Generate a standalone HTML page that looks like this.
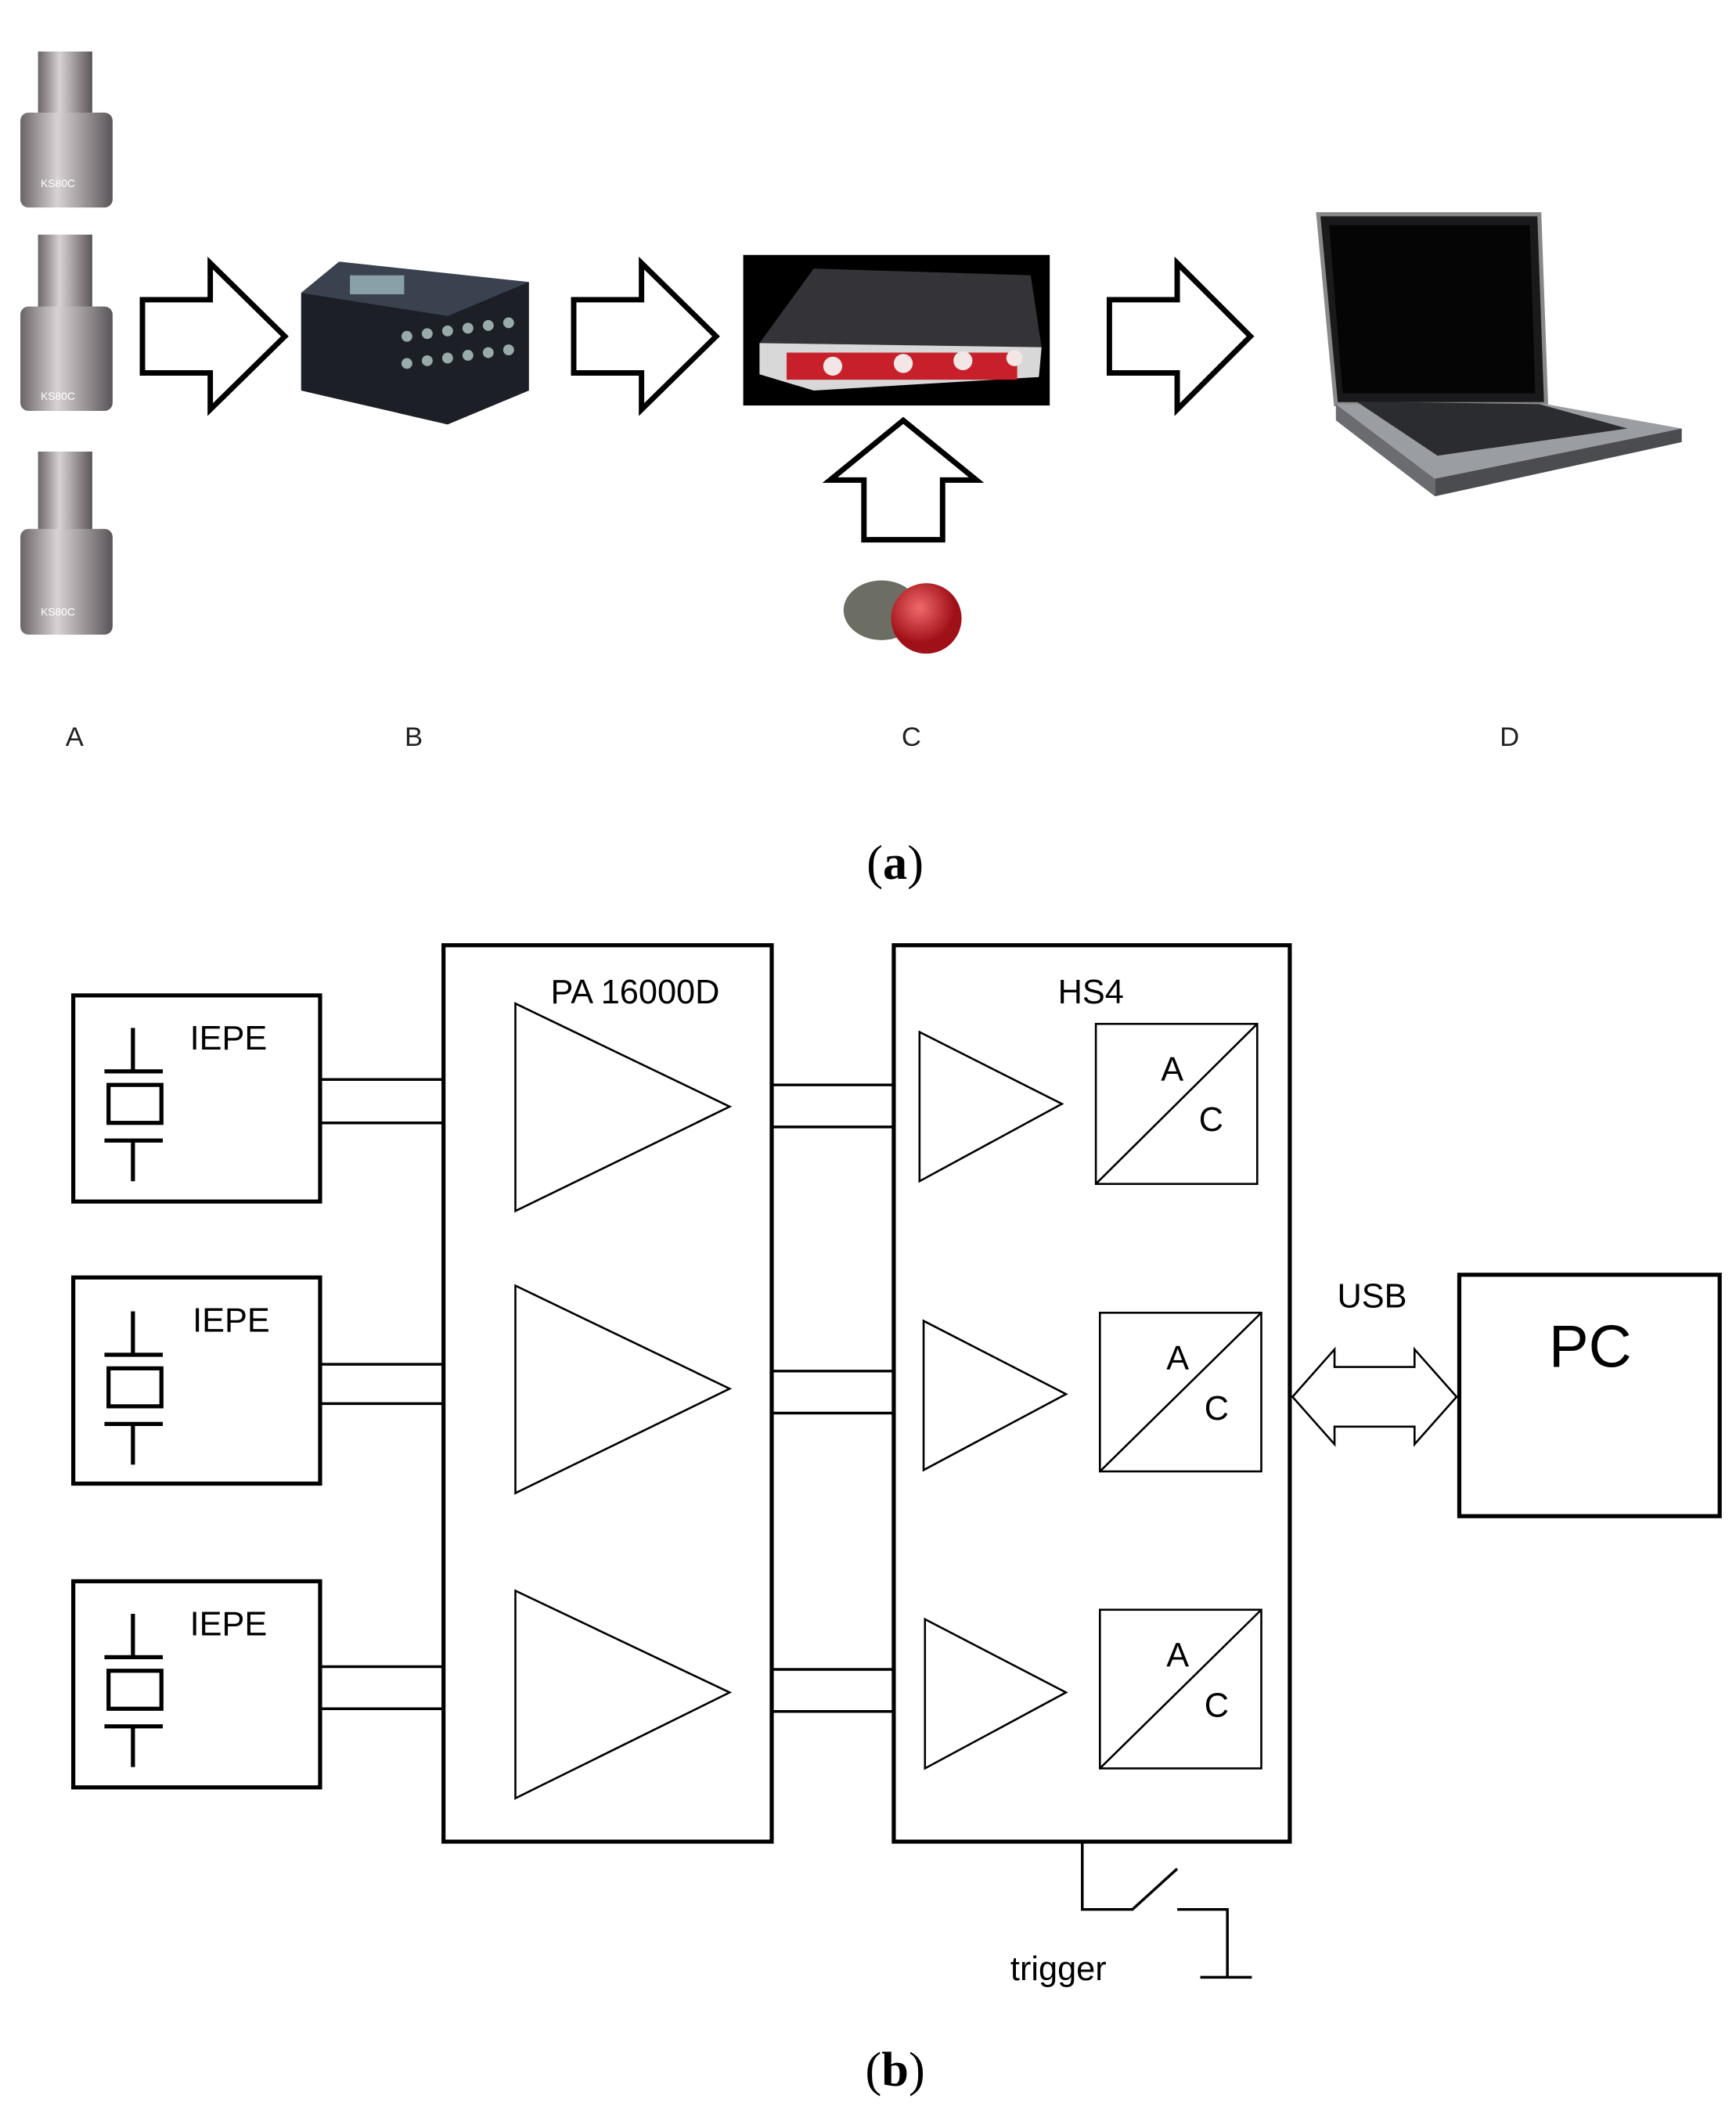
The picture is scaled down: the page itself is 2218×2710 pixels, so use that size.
<!DOCTYPE html>
<html><head><meta charset="utf-8"><style>
html,body{margin:0;padding:0;background:#fff;}
svg{display:block;}
text{font-family:"Liberation Sans",sans-serif;}
</style></head><body>
<svg width="2218" height="2710" viewBox="0 2 1280 1564" xmlns="http://www.w3.org/2000/svg">
<defs>
<linearGradient id="met" x1="0" x2="1"><stop offset="0" stop-color="#6a6468"/><stop offset="0.4" stop-color="#d8d2d4"/><stop offset="0.7" stop-color="#9a9497"/><stop offset="1" stop-color="#5a5558"/></linearGradient>
<radialGradient id="red" cx="0.4" cy="0.35"><stop offset="0" stop-color="#f06a6a"/><stop offset="1" stop-color="#a01018"/></radialGradient>
</defs>
<g>
<rect x="28" y="40" width="40" height="48" fill="url(#met)"/><rect x="15" y="85" width="68" height="70" rx="6" fill="url(#met)"/>
<rect x="28" y="175" width="40" height="55" fill="url(#met)"/><rect x="15" y="228" width="68" height="77" rx="6" fill="url(#met)"/>
<rect x="28" y="335" width="40" height="60" fill="url(#met)"/><rect x="15" y="392" width="68" height="78" rx="6" fill="url(#met)"/>
<text x="30" y="140" font-size="8" fill="#fff">KS80C</text>
<text x="30" y="297" font-size="8" fill="#fff">KS80C</text>
<text x="30" y="456" font-size="8" fill="#fff">KS80C</text>
</g>
<g fill="#fff" stroke="#000" stroke-width="4" stroke-linejoin="miter">
<polygon points="105,223 155,223 155,196 210,250 155,304 155,277 105,277"/>
<polygon points="423,223 473,223 473,196 528,250 473,304 473,277 423,277"/>
<polygon points="818,223 868,223 868,196 922,250 868,304 868,277 818,277"/>
<polygon points="637,400 637,356 612,356 666,312 720,356 695,356 695,400"/>
</g>
<polygon points="222,218 250,195 390,210 390,290 330,315 222,290" fill="#1c2026"/>
<polygon points="222,218 250,195 390,210 330,235" fill="#3a4250"/>
<rect x="258" y="205" width="40" height="14" fill="#8aa0a8" transform="skew(-10)"/>
<g fill="#9aa" ><circle cx="300" cy="250" r="4"/><circle cx="315" cy="248" r="4"/><circle cx="330" cy="246" r="4"/><circle cx="345" cy="244" r="4"/><circle cx="360" cy="242" r="4"/><circle cx="375" cy="240" r="4"/>
<circle cx="300" cy="270" r="4"/><circle cx="315" cy="268" r="4"/><circle cx="330" cy="266" r="4"/><circle cx="345" cy="264" r="4"/><circle cx="360" cy="262" r="4"/><circle cx="375" cy="260" r="4"/></g>
<rect x="548" y="190" width="226" height="111" fill="#000"/>
<polygon points="560,255 600,200 760,205 768,258" fill="#333338"/>
<polygon points="560,255 768,258 766,280 600,290 560,278" fill="#d8d8d8"/>
<g fill="#c8202a"><rect x="580" y="262" width="170" height="20"/></g>
<g fill="#f3e6e6"><circle cx="614" cy="272" r="7"/><circle cx="666" cy="270" r="7"/><circle cx="710" cy="268" r="7"/><circle cx="748" cy="266" r="6"/></g>
<ellipse cx="650" cy="452" rx="28" ry="22" fill="#6c6e64"/>
<circle cx="683" cy="458" r="26" fill="url(#red)"/>
<polygon points="972,160 1135,160 1140,300 985,300" fill="#1a1a1c" stroke="#888" stroke-width="3"/>
<polygon points="980,168 1128,168 1132,292 990,292" fill="#050505"/>
<polygon points="985,300 1140,300 1240,318 1058,355" fill="#9a9ea2"/>
<polygon points="1000,298 1135,300 1200,318 1060,338" fill="#2a2c30"/>
<polygon points="985,300 1058,355 1058,368 985,312" fill="#6a6c70"/>
<polygon points="1058,355 1240,318 1240,328 1058,368" fill="#4a4c50"/>
<g font-size="20" fill="#222" text-anchor="middle">
<text x="55" y="552">A</text><text x="305" y="552">B</text><text x="672" y="552">C</text><text x="1113" y="552">D</text>
</g>
<text x="660" y="650" font-size="36" text-anchor="middle" style="font-family:'Liberation Serif',serif">(<tspan font-weight="bold">a</tspan>)</text>

<g fill="none" stroke="#000" stroke-width="3">
<rect x="54" y="736" width="182" height="152"/>
<rect x="54" y="944" width="182" height="152"/>
<rect x="54" y="1168" width="182" height="152"/>
<rect x="327" y="699" width="242" height="661"/>
<rect x="659" y="699" width="292" height="661"/>
<rect x="1076" y="942" width="192" height="178"/>
</g>
<g fill="none" stroke="#000" stroke-width="1.5">
<polygon points="380,742 380,895 538,818"/>
<polygon points="380,950 380,1103 538,1026"/>
<polygon points="380,1175 380,1328 538,1250"/>
<polygon points="678,763 678,873 783,816"/>
<polygon points="681,976 681,1086 786,1030"/>
<polygon points="682,1196 682,1306 786,1250"/>
<rect x="808" y="757" width="119" height="118"/>
<line x1="808" y1="875" x2="927" y2="757"/>
<rect x="811" y="970" width="119" height="117"/>
<line x1="811" y1="1087" x2="930" y2="970"/>
<rect x="811" y="1189" width="119" height="117"/>
<line x1="811" y1="1306" x2="930" y2="1189"/>
<polygon points="953,1032 984,997 984,1010 1043,1010 1043,997 1074,1032 1043,1067 1043,1054 984,1054 984,1067"/>
</g>
<g stroke="#000" stroke-width="2" fill="none">
<line x1="236" y1="798" x2="327" y2="798"/><line x1="236" y1="830" x2="327" y2="830"/>
<line x1="236" y1="1008" x2="327" y2="1008"/><line x1="236" y1="1037" x2="327" y2="1037"/>
<line x1="236" y1="1231" x2="327" y2="1231"/><line x1="236" y1="1262" x2="327" y2="1262"/>
<line x1="569" y1="802" x2="659" y2="802"/><line x1="569" y1="833" x2="659" y2="833"/>
<line x1="569" y1="1013" x2="659" y2="1013"/><line x1="569" y1="1044" x2="659" y2="1044"/>
<line x1="569" y1="1233" x2="659" y2="1233"/><line x1="569" y1="1264" x2="659" y2="1264"/>
<polyline points="798,1360 798,1410 835,1410 868,1380"/>
<polyline points="868,1410 905,1410 905,1460"/>
<line x1="885" y1="1460" x2="923" y2="1460"/>
</g>
<g stroke="#000" stroke-width="3" fill="none">
<g id="pz"><line x1="98" y1="760" x2="98" y2="792"/><line x1="77" y1="792" x2="120" y2="792"/><rect x="80" y="802" width="39" height="28"/><line x1="77" y1="843" x2="120" y2="843"/><line x1="98" y1="843" x2="98" y2="873"/></g>
<use href="#pz" y="209"/>
<use href="#pz" y="432"/>
</g>
<g font-size="25" fill="#000">
<text x="140" y="776">IEPE</text><text x="142" y="984">IEPE</text><text x="140" y="1208">IEPE</text>
<text x="406" y="742">PA 16000D</text><text x="780" y="742">HS4</text>
<text x="856" y="799">A</text><text x="884" y="836">C</text>
<text x="860" y="1012">A</text><text x="888" y="1049">C</text>
<text x="860" y="1231">A</text><text x="888" y="1268">C</text>
<text x="986" y="966">USB</text>
<text x="745" y="1462">trigger</text>
<text x="1142" y="1010" font-size="44">PC</text>
</g>
<text x="660" y="1540" font-size="36" text-anchor="middle" style="font-family:'Liberation Serif',serif">(<tspan font-weight="bold">b</tspan>)</text>
</svg>
</body></html>
